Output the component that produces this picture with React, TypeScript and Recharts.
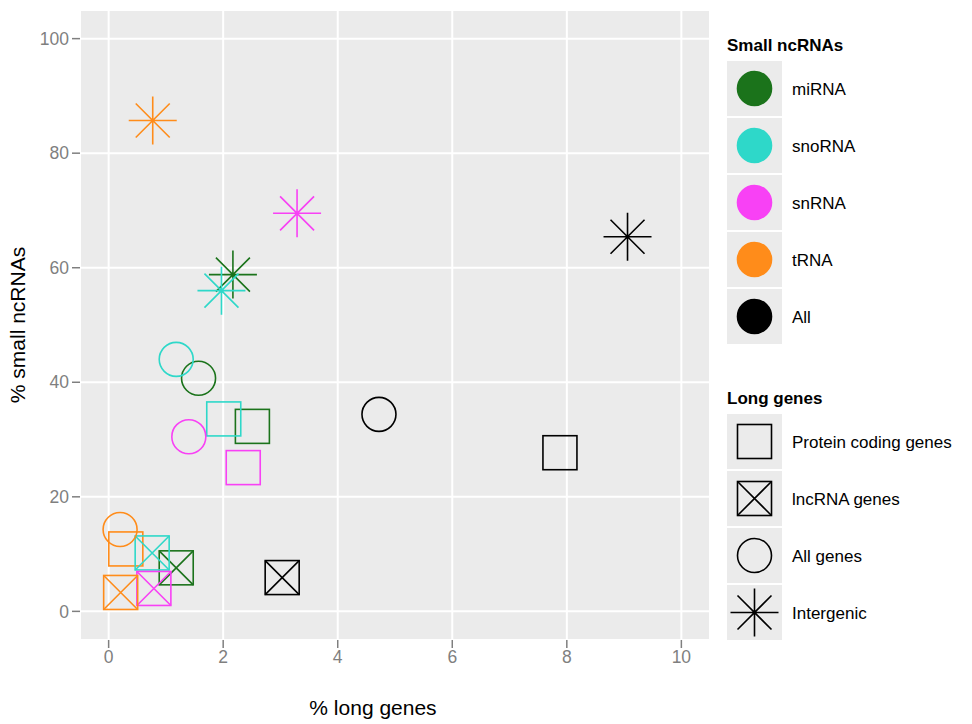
import React from 'react';
import { ScatterChart, Scatter, XAxis, YAxis, CartesianGrid } from 'recharts';

// small ncRNA categories and their colours
const categories = ['miRNA', 'snoRNA', 'snRNA', 'tRNA', 'All'];
const categoryColors = ['#1b731b', '#2ed8c9', '#f841f5', '#ff8c1a', '#000000'];

// long gene groups (legend order)
const geneTypes = ['Protein coding genes', 'lncRNA genes', 'All genes', 'Intergenic'];
const geneShapes = ['square', 'squareX', 'circle', 'asterisk'];

// values per gene group, indexed like categories
const proteinX = [2.51, 2.01, 2.35, 0.3, 7.88];
const proteinY = [32.3, 33.6, 25.1, 10.9, 27.7];
const lncX = [1.18, 0.76, 0.79, 0.21, 3.03];
const lncY = [7.6, 10.2, 4.0, 3.3, 5.9];
const allGenesX = [1.57, 1.18, 1.4, 0.2, 4.72];
const allGenesY = [40.7, 44.0, 30.5, 14.3, 34.4];
const intergenicX = [2.17, 1.97, 3.29, 0.77, 9.06];
const intergenicY = [58.8, 56.0, 69.5, 85.7, 65.4];

const xTicks = [0, 2, 4, 6, 8, 10];
const yTicks = [0, 20, 40, 60, 80, 100];

const seriesX = [proteinX, lncX, allGenesX, intergenicX];
const seriesY = [proteinY, lncY, allGenesY, intergenicY];

const FONT = '"Liberation Sans", Arial, sans-serif';

function Marker({ kind, cx, cy, color, fill }: { kind: string; cx: number; cy: number; color: string; fill?: boolean }) {
    const r = 17;
    const sw = 1.6;
    if (kind === 'circle') {
        return <circle cx={cx} cy={cy} r={r} fill={fill ? color : 'none'} stroke={color} strokeWidth={sw} />;
    }
    if (kind === 'square' || kind === 'squareX') {
        return (
            <g>
                <rect x={cx - r} y={cy - r} width={2 * r} height={2 * r} fill="none" stroke={color} strokeWidth={sw} />
                {kind === 'squareX' && (
                    <path d={`M${cx - r},${cy - r}L${cx + r},${cy + r}M${cx + r},${cy - r}L${cx - r},${cy + r}`} stroke={color} strokeWidth={sw} />
                )}
            </g>
        );
    }
    const a = 24;
    const d = 17;
    return (
        <path
            d={`M${cx - a},${cy}L${cx + a},${cy}M${cx},${cy - a}L${cx},${cy + a}M${cx - d},${cy - d}L${cx + d},${cy + d}M${cx + d},${cy - d}L${cx - d},${cy + d}`}
            stroke={color}
            strokeWidth={sw}
        />
    );
}

function LegendKey({ children }: { children: React.ReactNode }) {
    return (
        <svg width={55} height={55} style={{ display: 'block' }}>
            <rect x={0} y={0} width={55} height={55} fill="#ebebeb" />
            {children}
        </svg>
    );
}

function LegendBlock({ title, top, items }: { title: string; top: number; items: { label: string; icon: React.ReactNode }[] }) {
    return (
        <div style={{ position: 'absolute', left: 727, top, fontFamily: FONT }}>
            <div style={{ fontWeight: 'bold', fontSize: 17, height: 28, lineHeight: '28px' }}>{title}</div>
            {items.map((it) => (
                <div key={it.label} style={{ display: 'flex', alignItems: 'center', height: 57 }}>
                    <LegendKey>{it.icon}</LegendKey>
                    <span style={{ marginLeft: 10, fontSize: 17, color: '#000', paddingTop: 2 }}>{it.label}</span>
                </div>
            ))}
        </div>
    );
}

export default function App() {
    return (
        <div style={{ position: 'absolute', left: 0, top: 0, width: 972, height: 724, background: '#fff' }}>
            <ScatterChart width={972} height={724} margin={{ top: 10, right: 262, bottom: 0, left: 0 }}>
                <CartesianGrid fill="#ebebeb" fillOpacity={1} stroke="#ffffff" strokeWidth={2} />
                <XAxis
                    type="number"
                    dataKey="x"
                    domain={[-0.5, 10.5]}
                    ticks={xTicks}
                    height={84}
                    axisLine={false}
                    tickSize={8}
                    tickMargin={3}
                    tickLine={{ stroke: '#7f7f7f', strokeWidth: 1.5 }}
                    tick={{ fill: '#7f7f7f', fontSize: 17.5, fontFamily: FONT }}
                    label={{ value: '% long genes', position: 'insideBottom', offset: 9, dx: -22, fill: '#000', fontSize: 21, fontFamily: FONT }}
                />
                <YAxis
                    type="number"
                    dataKey="y"
                    domain={[-5, 105]}
                    ticks={yTicks}
                    width={80}
                    axisLine={false}
                    tickSize={8}
                    tickMargin={3}
                    tickLine={{ stroke: '#7f7f7f', strokeWidth: 1.5 }}
                    tick={{ fill: '#7f7f7f', fontSize: 17.5, fontFamily: FONT }}
                    label={{ value: '% small ncRNAs', angle: -90, position: 'insideLeft', offset: 18, style: { textAnchor: 'middle' }, fill: '#000', fontSize: 21, fontFamily: FONT }}
                />
                {geneShapes.map((kind, g) =>
                    categories.map((cat, c) => (
                        <Scatter
                            key={`${kind}-${cat}`}
                            name={`${geneTypes[g]} ${cat}`}
                            data={[{ x: seriesX[g][c], y: seriesY[g][c] }]}
                            isAnimationActive={false}
                            shape={(p: any) => <Marker kind={kind} cx={p.cx} cy={p.cy} color={categoryColors[c]} />}
                        />
                    ))
                )}
            </ScatterChart>
            <LegendBlock
                title="Small ncRNAs"
                top={32}
                items={categories.map((cat, c) => ({
                    label: cat,
                    icon: <Marker kind="circle" cx={27.5} cy={27.5} color={categoryColors[c]} fill />,
                }))}
            />
            <LegendBlock
                title="Long genes"
                top={385}
                items={geneTypes.map((gt, g) => ({
                    label: gt,
                    icon: <Marker kind={geneShapes[g]} cx={27.5} cy={27.5} color="#000" />,
                }))}
            />
        </div>
    );
}
